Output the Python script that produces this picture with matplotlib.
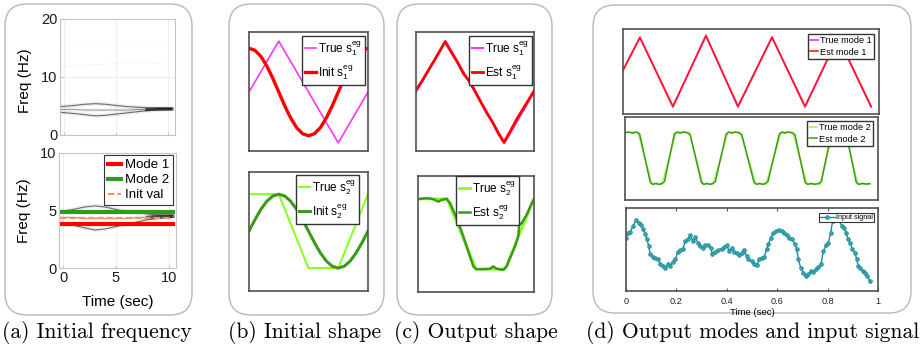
import numpy as np
import matplotlib
matplotlib.use("Agg")
import matplotlib.pyplot as plt
from matplotlib.patches import FancyBboxPatch

plt.rcParams['font.family'] = ['Liberation Sans', 'DejaVu Sans']
plt.rcParams['mathtext.default'] = 'regular'

W, H = 921, 346

# ---------------- data ----------------
# (a) spectrogram ridges (time in s, freq in Hz)
ridge_t = [-0.3, 1, 2, 3, 4, 5, 6, 7, 8, 9, 10.4]
ridge_hi = [4.9, 5.1, 5.3, 5.4, 5.3, 5.1, 4.9, 4.8, 4.7, 4.6, 4.6]
ridge_mid = [4.4, 4.4, 4.3, 4.3, 4.3, 4.3, 4.3, 4.4, 4.4, 4.5, 4.5]
ridge_lo = [3.9, 3.7, 3.5, 3.3, 3.4, 3.6, 3.8, 4.0, 4.2, 4.3, 4.4]
ridge_f15 = [15.4, 15.3, 15.2, 15.3, 15.5, 15.6, 15.8, 16.0, 16.2, 16.3, 16.3]
ridge_f12 = [11.8, 11.9, 12.0, 12.1, 12.2, 12.3, 12.5, 12.6, 12.5, 12.3, 12.2]
init_t = [-0.3, 10.4]
mode1_freq = [3.8, 3.8]
mode2_freq = [4.9, 4.9]
init_freq = [4.35, 4.35]

# (b) initial shapes (phase 0..1)
true_s1_x = [0, 0.25, 0.75, 1.0]
true_s1 = [0, 1, -1, 0]
init_x = [0, .05, .1, .15, .2, .25, .3, .35, .4, .45, .5, .55, .6, .65, .7, .75, .8, .85, .9, .95, 1.0]
init_s1 = [0.86, 0.82, 0.70, 0.51, 0.27, 0.0, -0.27, -0.51, -0.70, -0.82, -0.86,
           -0.82, -0.70, -0.51, -0.27, 0.0, 0.27, 0.51, 0.70, 0.82, 0.86]
true_s2_x = [0, 0.25, 0.5, 0.75, 1.0]
true_s2 = [1, 1, -1, -1, 1]
init_s2 = [0, 0.31, 0.59, 0.81, 0.95, 1.0, 0.95, 0.81, 0.59, 0.31, 0,
           -0.31, -0.59, -0.81, -0.95, -1.0, -0.95, -0.81, -0.59, -0.31, 0]

# (c) output shapes
est_s1_x = [0, .05, .1, .15, .2, .247, .3, .35, .4, .45, .5, .55, .6, .65, .7, .745, .8, .85, .9, .95, 1.0]
est_s1 = [0.04, 0.21, 0.41, 0.60, 0.80, 0.99, 0.78, 0.59, 0.37, 0.22, 0.02,
          -0.20, -0.41, -0.60, -0.82, -0.99, -0.77, -0.55, -0.36, -0.17, 0.02]
est_s2_x = [0, 0.075, 0.132, 0.175, 0.204, 0.247, 0.276, 0.334, 0.391, 0.448, 0.477, 0.5,
            0.563, 0.621, 0.649, 0.678, 0.735, 0.765, 0.793, 0.836, 0.865, 0.873, 0.894,
            0.937, 0.981, 1.0]
est_s2 = [0.99, 1.02, 0.99, 0.92, 0.97, 1.0, 0.88, 0.45, -0.07, -0.64, -0.92, -1.0,
          -1.0, -0.99, -0.92, -0.99, -1.02, -0.92, -0.69, -0.36, -0.05, 0.26, 0.31,
          0.55, 0.88, 0.99]

# (d) output modes (time in s)
mode1_t = [0, 0.066, 0.195, 0.324, 0.449, 0.582, 0.711, 0.840, 0.969]
mode1_true = [0.05, 1.0, -1.0, 1.05, -1.0, 1.0, -1.0, 1.0, -1.0]
mode1_est = [0.05, 0.98, -0.98, 1.03, -0.98, 0.99, -0.98, 0.99, -0.98]

mode2_true_t = [0, 0.051, 0.107, 0.146, 0.202, 0.253, 0.308, 0.348, 0.407, 0.455,
                0.518, 0.557, 0.617, 0.664, 0.719, 0.771, 0.822, 0.870, 0.921, 0.968]
mode2_true = [1, 1, -1, -1, 1, 1, -1, -1, 1, 1, -1, -1, 1, 1, -1, -1, 1, 1, -1, -1]
mode2_est_t = [0.000, 0.015, 0.030, 0.045, 0.058, 0.100, 0.110, 0.122, 0.134, 0.146, 0.156,
               0.195, 0.205, 0.218, 0.230, 0.245, 0.258, 0.302, 0.312, 0.324, 0.336, 0.348,
               0.357, 0.400, 0.410, 0.422, 0.434, 0.448, 0.462, 0.510, 0.520, 0.532, 0.544,
               0.556, 0.565, 0.610, 0.620, 0.632, 0.644, 0.658, 0.672, 0.712, 0.722, 0.736,
               0.750, 0.766, 0.776, 0.815, 0.825, 0.838, 0.850, 0.864, 0.876, 0.914, 0.924,
               0.938, 0.952, 0.968]
mode2_est = [0.97, 1.00, 0.96, 1.00, 0.93, -0.93, -1.00, -0.96, -1.00, -0.97, -0.90,
             0.93, 1.00, 0.96, 1.00, 0.98, 0.90, -0.93, -1.00, -0.96, -1.00, -0.96,
             -0.90, 0.93, 1.00, 0.96, 1.00, 0.98, 0.90, -0.93, -1.00, -0.96, -1.00,
             -0.96, -0.90, 0.93, 1.00, 0.96, 1.00, 0.98, 0.90, -0.93, -1.00, -0.96,
             -1.00, -0.96, -0.90, 0.93, 1.00, 0.96, 1.00, 0.98, 0.90, -0.93, -1.00,
             -0.96, -0.99, -0.97]

input_t = [0.000, 0.008, 0.017, 0.028, 0.040, 0.050, 0.060, 0.067, 0.077, 0.083,
           0.090, 0.096, 0.106, 0.116, 0.127, 0.136, 0.147, 0.156, 0.167, 0.176,
           0.185, 0.196, 0.205, 0.215, 0.226, 0.235, 0.245, 0.255, 0.265, 0.275,
           0.285, 0.295, 0.306, 0.315, 0.327, 0.337, 0.342, 0.353, 0.366, 0.380,
           0.390, 0.400, 0.409, 0.419, 0.430, 0.439, 0.450, 0.459, 0.468, 0.479,
           0.485, 0.499, 0.509, 0.519, 0.528, 0.538, 0.549, 0.558, 0.565, 0.575,
           0.585, 0.595, 0.607, 0.618, 0.628, 0.638, 0.647, 0.659, 0.671, 0.677,
           0.684, 0.693, 0.704, 0.714, 0.723, 0.733, 0.743, 0.754, 0.763, 0.774,
           0.783, 0.794, 0.803, 0.812, 0.820, 0.833, 0.845, 0.856, 0.865, 0.873,
           0.882, 0.889, 0.898, 0.909, 0.915, 0.922, 0.929, 0.939, 0.948, 0.956, 0.968]
input_sig = [11.7, 17.3, 18.3, 24, 30, 27.3, 24.7, 21.3, 16.3, 10.7,
             4, -4.3, -6.7, -7.7, -9.3, -14.3, -16, -17.7, -14.3, -16,
             -12, -9.3, -2, -0.3, 1.3, 9, 10.7, 14.7, 9, 13.3,
             7.3, 4, 2.3, 4.7, 5, 2.3, -3.7, -1.7, 0, 1.3,
             3.3, 4.7, -1, 2.3, -2, -2.7, -5.3, -2.7, 0, -6,
             -9.3, -11, -14.3, -15.3, -9.3, -7.7, -6.7, 1.3, 5.7, 12.3,
             17.3, 19, 20, 19, 17.3, 14.7, 12.3, 11, 5.7, 0.7,
             -9.3, -17.7, -22.7, -26, -24.3, -21, -21.7, -18.7, -17, -14.3,
             -1, 4.7, 7.3, 17.3, 29, 35, 30, 24, 22.3, 17.3,
             10.7, 7.3, 0.7, -2.7, -9.3, -16, -17.7, -21, -22.7, -26, -31]

time_ticks = [0, 0.2, 0.4, 0.6, 0.8, 1]
time_ticklabels = ['0', '0.2', '0.4', '0.6', '0.8', '1']

captions = ['(a) Initial frequency', '(b) Initial shape', '(c) Output shape',
            '(d) Output modes and input signal']

# ---------------- colours ----------------
C_MAG = '#ff33ff'
C_RED = '#ff0000'
C_LG = '#88ff22'
C_DG = '#3a9a1a'
C_TEAL = '#1b8c98'
FRAME = '#505050'

fig = plt.figure(figsize=(W / 100, H / 100), dpi=100)

bg = fig.add_axes([0, 0, 1, 1])
bg.set_xlim(0, W)
bg.set_ylim(H, 0)
bg.axis('off')
bg.set_zorder(-5)
for (x0, y0, x1, y1) in [(5, 4, 192, 315), (229, 4, 384, 315), (397, 4, 552, 315), (593, 5, 911, 313)]:
    bg.add_patch(FancyBboxPatch((x0, y0), x1 - x0, y1 - y0,
                                boxstyle="round,pad=0,rounding_size=22",
                                ec='#b8b8b8', fc='white', lw=1.0))

cap_x = [97, 305, 476, 753]
for cx, txt in zip(cap_x, captions):
    fig.text(cx / W, 1 - 333 / H, txt, ha='center', va='center', family='cmr10', fontsize=15.5)


def pax(x0, y0, x1, y1):
    return fig.add_axes([x0 / W, 1 - y1 / H, (x1 - x0) / W, (y1 - y0) / H])


def frame(ax, color=FRAME, lw=1.2):
    for s in ax.spines.values():
        s.set_color(color)
        s.set_linewidth(lw)
    ax.set_xticks([])
    ax.set_yticks([])


def draw_ridges(ax, extra=False):
    for f, a in [(ridge_hi, 0.55), (ridge_mid, 0.35), (ridge_lo, 0.55)]:
        ax.plot(ridge_t, f, color='black', lw=3.0, alpha=a * 0.12, solid_capstyle='butt')
        ax.plot(ridge_t, f, color='black', lw=0.8, alpha=a)
    ax.plot(ridge_t[-3:], ridge_mid[-3:], color='black', lw=2.5, alpha=0.55)
    if extra:
        ax.plot(ridge_t, ridge_f15, color='black', lw=0.8, alpha=0.025)
        ax.plot(ridge_t, ridge_f12, color='black', lw=0.8, alpha=0.035)


def style_a(ax):
    for s in ax.spines.values():
        s.set_color('#c4c4c4')
        s.set_linewidth(0.8)
    ax.tick_params(direction='in', length=2, labelsize=10.5, colors='#c4c4c4',
                   labelcolor='#1a1a1a', pad=2)
    ax.grid(True, color='#ececec', lw=0.6)
    ax.set_axisbelow(True)
    ax.set_xlim(-0.4, 10.7)


# ----- (a) top -----
ax = pax(60, 19, 175, 135)
draw_ridges(ax, extra=True)
style_a(ax)
ax.set_ylim(0, 20)
ax.set_yticks([0, 10, 20])
ax.set_xticks([0, 5, 10])
ax.tick_params(labelbottom=False)
ax.set_ylabel('Freq (Hz)', fontsize=11)
ax.yaxis.set_label_coords(-0.24, 0.47)

# ----- (a) bottom -----
ax = pax(59, 153, 176, 268)
draw_ridges(ax)
style_a(ax)
ax.set_ylim(0, 10)
ax.set_yticks([0, 5, 10])
ax.set_xticks([0, 5, 10])
ax.plot(init_t, mode1_freq, color=C_RED, lw=3, label='Mode 1')
ax.plot(init_t, mode2_freq, color='#2e9a1e', lw=3, label='Mode 2')
ax.plot(init_t, init_freq, color='#ff9060', lw=1.5, ls=(0, (3, 1.5)), label='Init val')
ax.set_ylabel('Freq (Hz)', fontsize=11)
ax.yaxis.set_label_coords(-0.24, 0.5)
ax.set_xlabel('Time (sec)', fontsize=11)
ax.xaxis.set_label_coords(0.5, -0.235)
leg = ax.legend(loc='upper right', bbox_to_anchor=(1 - 3 / 117, 1 - 2 / 115), borderaxespad=0,
                fontsize=9.5, handlelength=1.0, handletextpad=0.3, labelspacing=0.22,
                borderpad=0.3, fancybox=False, framealpha=1)
leg.get_frame().set_edgecolor('#333333')
leg.get_frame().set_linewidth(0.8)


def small_legend(ax, right_px, top_px, wpx, hpx, fs=8.5, ls=0.45):
    leg = ax.legend(loc='upper right', bbox_to_anchor=(1 - right_px / wpx, 1 - top_px / hpx),
                    borderaxespad=0, fontsize=fs, handlelength=0.9, handletextpad=0.2,
                    labelspacing=ls, borderpad=0.25, fancybox=False, framealpha=1)
    leg.get_frame().set_edgecolor('#333333')
    leg.get_frame().set_linewidth(1.0)
    return leg


# ----- (b) top -----
ax = pax(249, 32, 368, 151)
ax.plot(true_s1_x, true_s1, color=C_MAG, lw=1.2, label=r'True $s_1^{eg}$')
ax.plot(init_x, init_s1, color=C_RED, lw=2.4, label=r'Init $s_1^{eg}$')
ax.set_xlim(0, 1)
ax.set_ylim(-1.16, 1.18)
frame(ax)
small_legend(ax, 3, 4, 119, 119)

# ----- (b) bottom -----
ax = pax(249, 172, 368, 291)
ax.plot(true_s2_x, true_s2, color=C_LG, lw=1.5, label=r'True $s_2^{eg}$')
ax.plot(init_x, init_s2, color=C_DG, lw=2.2, label=r'Init $s_2^{eg}$')
ax.set_xlim(0, 1)
ax.set_ylim(-1.62, 1.6)
frame(ax)
small_legend(ax, 9, 3, 119, 119)

# ----- (c) top -----
ax = pax(416, 32, 534, 151)
ax.plot(true_s1_x, true_s1, color=C_MAG, lw=1.5, label=r'True $s_1^{eg}$')
ax.plot(est_s1_x, est_s1, color=C_RED, lw=2.0, label=r'Est $s_1^{eg}$')
ax.set_xlim(0, 1)
ax.set_ylim(-1.16, 1.18)
frame(ax)
small_legend(ax, 2, 4, 118, 119)

# ----- (c) bottom -----
ax = pax(418, 176, 534, 292)
ax.plot(true_s2_x, true_s2, color=C_LG, lw=2.0, label=r'True $s_2^{eg}$')
ax.plot(est_s2_x, est_s2, color=C_DG, lw=1.8, label=r'Est $s_2^{eg}$')
ax.set_xlim(0, 1)
ax.set_ylim(-1.65, 1.65)
frame(ax)
small_legend(ax, 15, 0, 116, 116)

# ----- (d) top -----
ax = pax(623, 29, 879, 114)
ax.plot(mode1_t, mode1_true, color=C_MAG, lw=1.3, label='True mode 1')
ax.plot(mode1_t, mode1_est, color='#ff1a1a', lw=1.2, label='Est mode 1')
ax.set_xlim(0, 1)
ax.set_ylim(-1.2, 1.23)
frame(ax)
small_legend(ax, 5, 5, 256, 85, fs=6.6, ls=0.25)

# ----- (d) middle -----
ax = pax(625, 117, 878, 200)
ax.plot(mode2_true_t, mode2_true, color='#a8f07a', lw=1.2, label='True mode 2')
ax.plot(mode2_est_t, mode2_est, color='#3c9e0a', lw=1.1, label='Est mode 2')
ax.set_xlim(0, 1)
ax.set_ylim(-1.6, 1.58)
frame(ax)
small_legend(ax, 5, 4, 253, 83, fs=6.6, ls=0.25)

# ----- (d) bottom -----
ax = pax(626, 208, 878, 291)
ax.plot(input_t, input_sig, color=C_TEAL, lw=1.0, marker='o', ms=2.6,
        mfc='#3aa8b4', mec=C_TEAL, mew=0.6, label='Input signal')
ax.set_xlim(0, 1)
ax.set_ylim(-41, 42)
for s in ax.spines.values():
    s.set_color(FRAME)
    s.set_linewidth(1.2)
ax.set_yticks([])
ax.set_xticks(time_ticks)
ax.set_xticklabels(time_ticklabels)
ax.tick_params(axis='x', direction='in', length=2.5, top=True, labelsize=6.6,
               color='#505050', labelcolor='#222222', pad=4)
ax.set_xlabel('Time (sec)', fontsize=6.8)
ax.xaxis.set_label_coords(0.5, -0.21)
leg = ax.legend(loc='upper right', bbox_to_anchor=(1 - 4 / 252, 1 - 5 / 83), borderaxespad=0,
                fontsize=5.2, handlelength=2.0, handletextpad=0.2, borderpad=0.15,
                fancybox=False, framealpha=1)
leg.get_frame().set_edgecolor('#333333')
leg.get_frame().set_linewidth(0.8)

fig.savefig('out.png', dpi=100)
